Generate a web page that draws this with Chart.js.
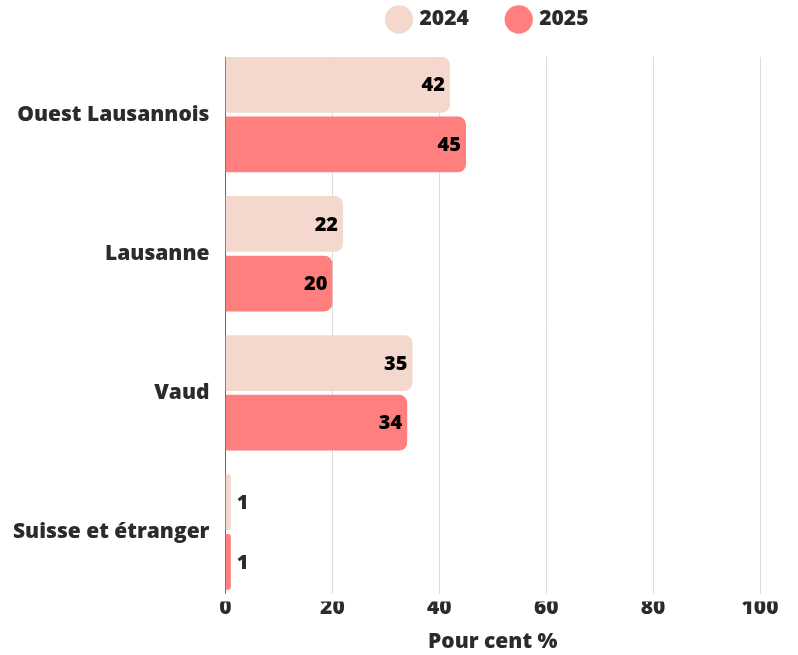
<!DOCTYPE html>
<html>
<head>
<meta charset="utf-8">
<script src="https://cdn.jsdelivr.net/npm/chart.js@4"></script>
<style>
  html, body { margin: 0; padding: 0; background: #fff; }
  #wrap { width: 798px; height: 655px; }
</style>
</head>
<body>
<div id="wrap"><canvas id="chart"></canvas></div>
<script>
// Data
const regions = ['Ouest Lausannois', 'Lausanne', 'Vaud', 'Suisse et étranger'];
const values2024 = [42, 22, 35, 1];
const values2025 = [45, 20, 34, 1];
const xTicks = [0, 20, 40, 60, 80, 100];

const FONT = '"Open Sans", sans-serif';
const TEXT = '#2b2b2b';

// legend centred over the plot, a bit higher
const legendPlace = {
    id: 'legendPlace',
    afterLayout(chart) {
        const lg = chart.legend;
        lg.left = chart.chartArea.left - 8;
        lg.right = chart.chartArea.right;
        lg.top -= 5;
        lg.bottom -= 5;
    }
};

// grid lines only between first and last bar
const shortGrid = {
    id: 'shortGrid',
    beforeDatasetsDraw(chart) {
        const ctx = chart.ctx;
        const x = chart.scales.x;
        const first = chart.getDatasetMeta(0).data[0];
        const lastMeta = chart.getDatasetMeta(chart.data.datasets.length - 1);
        const last = lastMeta.data[lastMeta.data.length - 1];
        const top = first.y - first.height / 2;
        const bottom = last.y + last.height / 2 + 4;
        ctx.save();
        ctx.lineWidth = 1;
        xTicks.forEach(v => {
            const px = Math.round(x.getPixelForValue(v)) + 0.5;
            ctx.strokeStyle = v === 0 ? '#666' : '#dcdcdc';
            ctx.beginPath();
            ctx.moveTo(px, top);
            ctx.lineTo(px, bottom);
            ctx.stroke();
        });
        ctx.restore();
    }
};

// draws the numbers at the bar ends
const barLabels = {
    id: 'barLabels',
    afterDatasetsDraw(chart) {
        const ctx = chart.ctx;
        ctx.save();
        ctx.font = '800 20px ' + FONT;
        ctx.textBaseline = 'middle';
        chart.data.datasets.forEach((ds, i) => {
            chart.getDatasetMeta(i).data.forEach((bar, j) => {
                const w = bar.x - bar.base;
                const txt = String(ds.data[j]);
                if (w > 40) {
                    ctx.fillStyle = '#000';
                    ctx.textAlign = 'right';
                    ctx.fillText(txt, bar.x - 5, bar.y + 1);
                } else {
                    ctx.fillStyle = TEXT;
                    ctx.textAlign = 'left';
                    ctx.fillText(txt, bar.x + 6, bar.y + 1);
                }
            });
        });
        ctx.restore();
    }
};

new Chart(document.getElementById('chart'), {
    type: 'bar',
    data: {
        labels: regions,
        datasets: [{
            label: '2024',
            data: values2024,
            backgroundColor: '#F5D8CD',
            borderRadius: 8,
            categoryPercentage: 0.857,
            barPercentage: 0.935
        }, {
            label: '2025',
            data: values2025,
            backgroundColor: '#FF7F7F',
            borderRadius: 8,
            categoryPercentage: 0.857,
            barPercentage: 0.935
        }]
    },
    options: {
        indexAxis: 'y',
        responsive: true,
        maintainAspectRatio: false,
        animation: false,
        layout: {
            padding: { left: 5, right: 38, top: -26, bottom: 0 }
        },
        scales: {
            x: {
                min: 0,
                max: 100,
                afterBuildTicks(scale) {
                    scale.ticks = xTicks.map(v => ({ value: v }));
                },
                grid: { display: false },
                border: { display: false },
                ticks: {
                    padding: -14,
                    color: TEXT,
                    font: { family: FONT, size: 21, weight: 800 }
                },
                title: {
                    display: true,
                    text: 'Pour cent %',
                    color: TEXT,
                    padding: { top: 23, bottom: 0 },
                    font: { family: FONT, size: 21, weight: 800 }
                }
            },
            y: {
                grid: { display: false },
                border: { display: false },
                ticks: {
                    padding: 8,
                    color: TEXT,
                    font: { family: FONT, size: 21, weight: 800 }
                }
            }
        },
        plugins: {
            legend: {
                position: 'top',
                labels: {
                    usePointStyle: true,
                    pointStyle: 'circle',
                    boxWidth: 20,
                    boxHeight: 20,
                    padding: 40,
                    color: TEXT,
                    font: { family: FONT, size: 21, weight: 800 }
                }
            },
            tooltip: { enabled: false }
        }
    },
    plugins: [legendPlace, shortGrid, barLabels]
});
</script>
</body>
</html>
